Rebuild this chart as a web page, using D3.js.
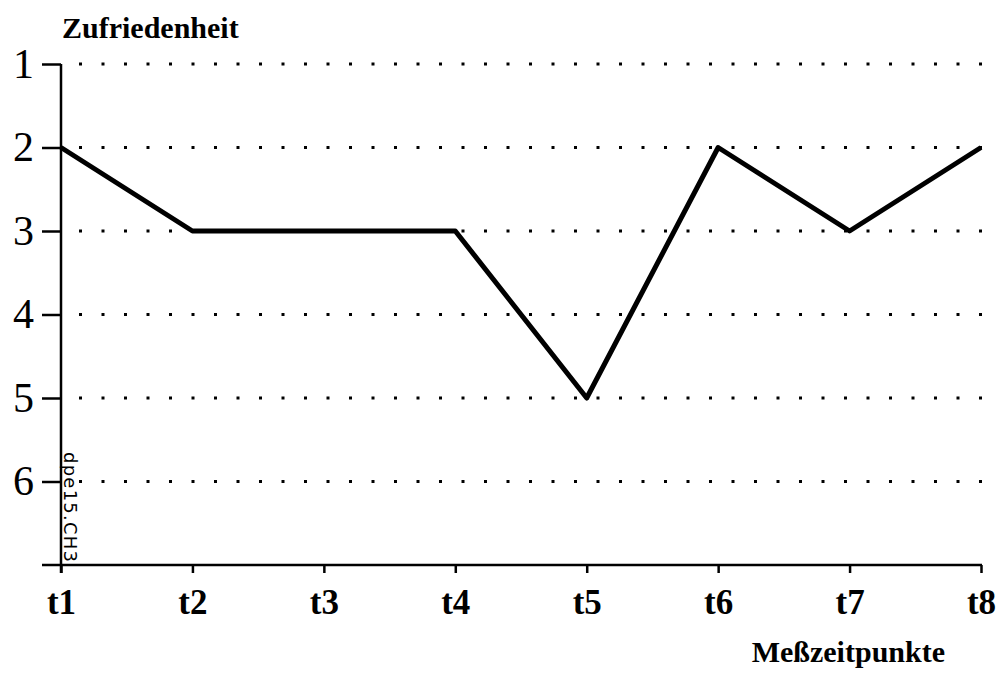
<!DOCTYPE html>
<html>
<head>
<meta charset="utf-8">
<script src="https://cdn.jsdelivr.net/npm/d3@7"></script>
<style>
  body{margin:0;background:#fff}
  svg{display:block}
</style>
</head>
<body>
<svg id="chart" width="999" height="675"></svg>
<script>
// Messzeitpunkte und Zufriedenheitswerte
const zeitpunkte=['t1','t2','t3','t4','t5','t6','t7','t8']
const zufriedenheit=[2,3,3,3,5,2,3,2]
const yTicks=[1,2,3,4,5,6]

const svg=d3.select('#chart')
const x=d3.scalePoint().domain(zeitpunkte).range([61,981])
const y=d3.scaleLinear().domain([1,7]).range([64,565])
const serif='"Liberation Serif","Times New Roman",serif'

// gepunktete Hilfslinien
svg.append('g').selectAll('line.grid')
  .data(yTicks)
  .enter()
  .append('line')
  .attr('class','grid')
  .attr('x1',79).attr('x2',984)
  .attr('y1',d=>y(d)).attr('y2',d=>y(d))
  .attr('stroke','#000')
  .attr('stroke-width',3)
  .attr('stroke-dasharray','3 19.5')

// y-Achse
const gy=svg.append('g')
  .attr('transform',`translate(${x('t1')},0)`)
  .call(d3.axisLeft(y).tickValues(yTicks).tickFormat(d3.format('d')).tickSize(19).tickSizeOuter(0).tickPadding(8))
gy.select('.domain').remove()
gy.selectAll('.tick line').attr('stroke','#000').attr('stroke-width',2.5)
gy.selectAll('.tick text')
  .attr('font-family',serif)
  .attr('font-size',42)
  .attr('fill','#000')
gy.append('line')
  .attr('y1',y(1)).attr('y2',y(7)+8)
  .attr('stroke','#000').attr('stroke-width',2.5)

// x-Achse
const gx=svg.append('g')
  .attr('transform',`translate(0,${y(7)})`)
  .call(d3.axisBottom(x).tickSize(8).tickSizeOuter(0).tickPadding(16))
gx.select('.domain').remove()
gx.selectAll('.tick line').attr('stroke','#000').attr('stroke-width',2.5)
gx.selectAll('.tick text')
  .attr('font-family',serif)
  .attr('font-weight','bold')
  .attr('font-size',35)
  .attr('fill','#000')
gx.append('line')
  .attr('x1',42).attr('x2',x('t8')+1)
  .attr('stroke','#000').attr('stroke-width',2.5)

// Verlauf
const line=d3.line()
  .x((d,i)=>x(zeitpunkte[i]))
  .y(d=>y(d))
svg.append('path')
  .datum(zufriedenheit)
  .attr('d',line)
  .attr('fill','none')
  .attr('stroke','#000')
  .attr('stroke-width',5)
  .attr('stroke-linejoin','round')

// Beschriftungen
svg.append('text')
  .attr('x',62).attr('y',38)
  .attr('font-family',serif)
  .attr('font-weight','bold')
  .attr('font-size',30)
  .text('Zufriedenheit')
svg.append('text')
  .attr('x',945).attr('y',662)
  .attr('text-anchor','end')
  .attr('font-family',serif)
  .attr('font-weight','bold')
  .attr('font-size',30)
  .text('Meßzeitpunkte')
svg.append('text')
  .attr('transform',`translate(${x('t1')+3},452) rotate(90)`)
  .attr('font-family','"DejaVu Sans",sans-serif')
  .attr('font-size',18)
  .attr('textLength',110)
  .text('dpe15.CH3')
</script>
</body>
</html>
